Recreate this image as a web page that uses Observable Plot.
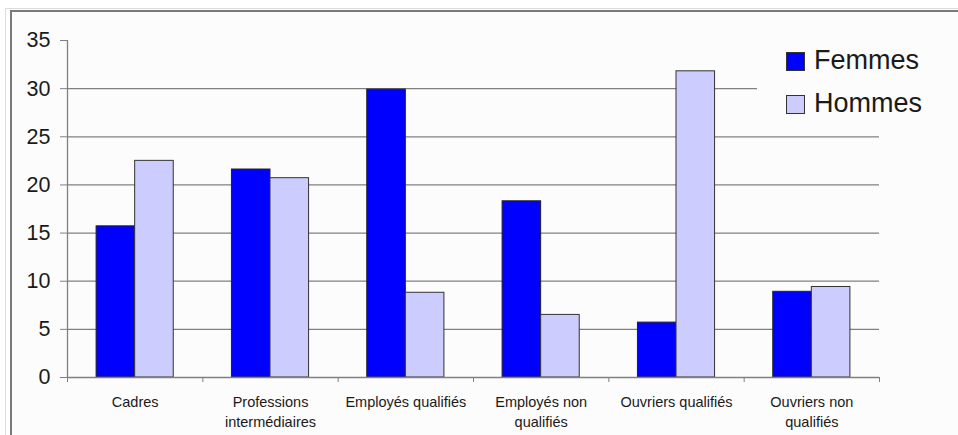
<!DOCTYPE html>
<html><head><meta charset="utf-8">
<script src="https://cdn.jsdelivr.net/npm/d3@7"></script>
<script src="https://cdn.jsdelivr.net/npm/@observablehq/plot@0.6"></script>
<style>
html,body{margin:0;padding:0;background:#fff;width:958px;height:435px;overflow:hidden;font-family:"Liberation Sans",Arial,sans-serif;}
#outer{position:absolute;left:5px;top:8px;width:1000px;height:500px;border-left:1px solid #dcdcdc;border-top:1px solid #dcdcdc;}
#frame{position:absolute;left:10px;top:10px;width:1000px;height:500px;border-left:2px solid #7a7a7a;border-top:2px solid #7a7a7a;background:#fcfcfc;}
#chart{position:absolute;left:0;top:0;}
#legend{position:absolute;left:757px;top:44px;width:190px;height:80px;background:#fcfcfc;}
.item{position:absolute;left:29px;height:20px;font-size:27px;color:#1a1a1a;}
.sw{position:absolute;left:0;width:17px;height:17px;border:1px solid #333;}
.lbl{position:absolute;left:28px;top:-7px;white-space:nowrap;line-height:30px;}
</style></head>
<body>
<div id="outer"></div>
<div id="frame"></div>
<div id="chart"></div>
<div id="legend"></div>
<script>
const categories = ["Cadres", "Professions\nintermédiaires", "Employés qualifiés", "Employés non\nqualifiés", "Ouvriers qualifiés", "Ouvriers non\nqualifiés"];
const femmes = [15.7, 21.6, 29.9, 18.3, 5.7, 8.9];
const hommes = [22.5, 20.7, 8.8, 6.5, 31.8, 9.4];
const seriesNames = ["Femmes", "Hommes"];
const seriesColors = ["#0000ff", "#ccccff"];
const yTicks = [0, 5, 10, 15, 20, 25, 30, 35];
const gridValues = [5, 10, 15, 20, 25, 30];

const rows = categories.map((c, i) => ({i, c, f: femmes[i], h: hommes[i]}));
const gap = 0.215;

const chart = Plot.plot({
  width: 958, height: 435,
  marginLeft: 67, marginRight: 79, marginTop: 40, marginBottom: 58,
  style: {background: "transparent", fontFamily: "'Liberation Sans', Arial, sans-serif", color: "#1a1a1a"},
  x: {domain: [0, categories.length], axis: null},
  y: {domain: [0, 35], axis: null},
  marks: [
    Plot.ruleY(gridValues, {x1: 0, x2: categories.length, stroke: "#808080", strokeWidth: 1.3, strokeOpacity: 1}),
    Plot.rectY(rows, {x1: d => d.i + gap, x2: d => d.i + 0.5, y1: 0, y2: "f", fill: seriesColors[0], stroke: "#222", strokeWidth: 1}),
    Plot.rectY(rows, {x1: d => d.i + 0.5, x2: d => d.i + 1 - gap, y1: 0, y2: "h", fill: seriesColors[1], stroke: "#333", strokeWidth: 1}),
    Plot.ruleY([0], {x1: 0, x2: categories.length, stroke: "#808080", strokeWidth: 1.3, strokeOpacity: 1}),
    Plot.ruleX([0], {y1: 0, y2: 35, stroke: "#808080", strokeWidth: 1.3, strokeOpacity: 1}),
    Plot.axisY({ticks: yTicks, tickSize: 7, tickPadding: 10, fontSize: 21.5, stroke: "#808080", strokeOpacity: 1, tickFormat: d => String(d)}),
    Plot.axisX({ticks: d3.range(categories.length + 1), tickSize: 5, tickFormat: () => "", stroke: "#808080", strokeOpacity: 1}),
    Plot.text(rows, {x: d => d.i + 0.5, y: 0, text: "c", dy: 16, lineAnchor: "top", lineHeight: 1.35, fontSize: 14.5, fill: "#1a1a1a"})
  ]
});
document.getElementById("chart").appendChild(chart);

const legend = document.getElementById("legend");
seriesNames.forEach((name, k) => {
  const item = document.createElement("div");
  item.className = "item";
  item.style.top = (8 + k * 43) + "px";
  item.innerHTML = `<div class="sw" style="background:${seriesColors[k]}"></div><div class="lbl">${name}</div>`;
  legend.appendChild(item);
});
</script>
</body></html>
